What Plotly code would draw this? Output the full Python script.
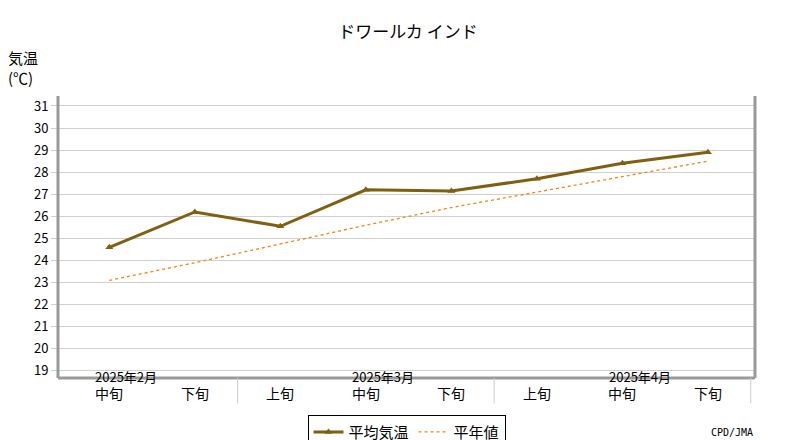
import plotly.graph_objects as go

# data
periods = ["中旬", "下旬", "上旬", "中旬", "下旬", "上旬", "中旬", "下旬"]
months = {0: "2025年2月", 3: "2025年3月", 6: "2025年4月"}
temp_mean = [24.6, 26.2, 25.55, 27.2, 27.15, 27.7, 28.4, 28.9]
temp_normal = [23.1, 23.9, 24.75, 25.6, 26.4, 27.1, 27.8, 28.5]

x = list(range(len(periods)))
font = "Noto Sans CJK JP"
grey = "#999999"

fig = go.Figure()
fig.add_trace(go.Scatter(
    x=x, y=temp_mean, name="平均気温", mode="lines+markers",
    line=dict(color="#806010", width=3),
    marker=dict(symbol="triangle-up", size=7, color="#806010"),
))
fig.add_trace(go.Scatter(
    x=x, y=temp_normal, name="平年値", mode="lines",
    line=dict(color="#ff7f0e", width=1.3, dash="dot"),
))

# frame: left, right, bottom
for x0, y0, x1, y1 in [(0, 0, 0, 1), (1, 0, 1, 1), (0, 0, 1, 0)]:
    fig.add_shape(type="line", xref="paper", yref="paper",
                  x0=x0, y0=y0, x1=x1, y1=y1, line=dict(color=grey, width=3))

# category labels under the axis
for i, p in enumerate(periods):
    fig.add_annotation(x=i, y=0, xref="x", yref="paper", yshift=-27,
                       text=p, showarrow=False, font=dict(size=14))
for i, m in months.items():
    fig.add_annotation(x=i + 0.2, y=0, xref="x", yref="paper", yshift=-10,
                       text=m, showarrow=False, font=dict(size=13))
for sep in [1.5, 4.5, 7.5]:
    fig.add_shape(type="line", xref="x", yref="paper", x0=sep, x1=sep,
                  y0=0, y1=-0.09, line=dict(color="#cccccc", width=1))

fig.add_annotation(x=0, y=1, xref="paper", yref="paper", xshift=-52, yshift=6,
                   text="気温<br>(℃)", showarrow=False, align="left",
                   xanchor="left", yanchor="bottom", font=dict(size=15))
fig.add_annotation(x=1, y=0, xref="paper", yref="paper", yshift=-62,
                   text="CPD/JMA", showarrow=False, xanchor="right",
                   font=dict(size=10, family="DejaVu Sans Mono"))

fig.update_layout(
    width=800, height=440,
    title=dict(text="ドワールカ インド", x=0.5, y=0.96, font=dict(size=17)),
    font=dict(family=font, color="black", size=13),
    plot_bgcolor="white", paper_bgcolor="white",
    margin=dict(l=50, r=53, t=88, b=70, autoexpand=False),
    xaxis=dict(range=[-0.6, 7.55], showticklabels=False, showgrid=False,
               zeroline=False, fixedrange=True, automargin=False),
    yaxis=dict(range=[18.68, 31.45], dtick=1, gridcolor="#d0d0d0",
               zeroline=False, ticks="outside", ticklen=6, tickcolor="#d0d0d0",
               automargin=False),
    legend=dict(orientation="h", x=0.5, xanchor="center", y=-0.13,
                yanchor="top", bordercolor="black", borderwidth=1,
                font=dict(size=15)),
)

fig.write_html("out.html")
